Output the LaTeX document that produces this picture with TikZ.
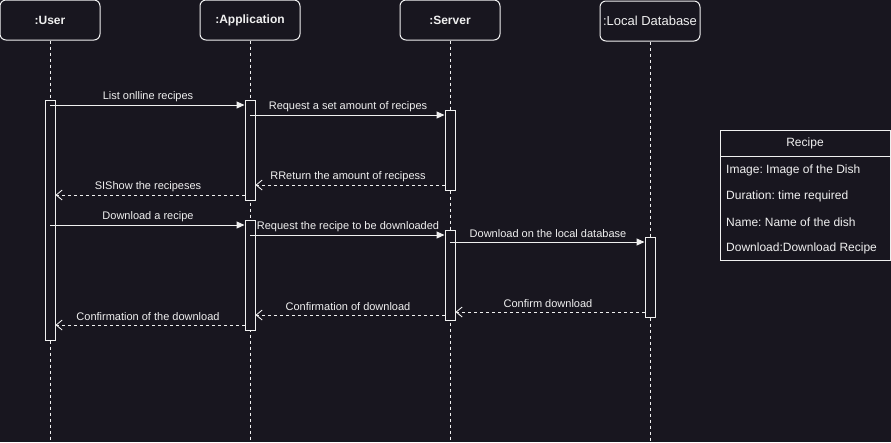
\documentclass[tikz,border=0pt]{standalone}
\usepackage{fontspec}
\setmainfont{Liberation Sans}
\usetikzlibrary{arrows.meta}
\definecolor{bgc}{RGB}{24,22,31}
\definecolor{fgc}{RGB}{240,240,240}
\frenchspacing
\begin{document}
\begin{tikzpicture}[x=1pt,y=-1pt,
  head/.style={draw=fgc,line width=1pt,rounded corners=6pt,minimum width=100pt,minimum height=40pt,inner sep=0pt,text=fgc,font=\fontsize{12}{14}\selectfont\bfseries,fill=bgc},
  life/.style={draw=fgc,line width=0.9pt,dash pattern=on 3pt off 3pt},
  act/.style={draw=fgc,line width=1pt,fill=bgc,minimum width=10pt,inner sep=0pt,anchor=north},
  msg/.style={draw=fgc,line width=1pt,-{Triangle[length=8pt,width=7pt]}},
  ret/.style={draw=fgc,line width=1pt,dash pattern=on 3pt off 3pt,-{Straight Barb[length=6pt,width=10pt,line width=0.9pt]}},
  lbl/.style={text=fgc,font=\fontsize{11}{13}\selectfont,inner sep=0pt},
  row/.style={text=fgc,font=\fontsize{12}{14}\selectfont,inner sep=0pt,anchor=west}]
\fill[bgc] (0,0) rectangle (891,442);
\useasboundingbox (0,0) rectangle (891,442);
% headers
\node[head] (hu) at (50,20) {:User};
\node[head] (ha) at (250,20) {:Application};
\node[head] (hs) at (450,20) {:Server};
\node[head,font=\fontsize{13}{15}\selectfont] (hd) at (650,21) {:Local Database};
% lifelines
\coordinate (eu) at (50,442);
\coordinate (ea) at (250,442);
\coordinate (es) at (450,442);
\coordinate (ed) at (650,442);
\draw[life] (hu.south) -- (eu);
\draw[life] (ha.south) -- (ea);
\draw[life] (hs.south) -- (es);
\draw[life] (hd.south) -- (ed);
% activations
\node[act,minimum height=240pt] (u1) at (50,100) {};
\node[act,minimum height=100pt] (a1) at (250,100) {};
\node[act,minimum height=110pt] (a2) at (250,220) {};
\node[act,minimum height=80pt] (s1) at (450,110) {};
\node[act,minimum height=90pt] (s2) at (450,230) {};
\node[act,minimum height=80pt] (d1) at (650,237) {};
% messages
\draw[msg] (u1.center |- 0,105) -- (a1.west |- 0,105);
\node[lbl] (l1) at (148,96.5) {List onlline recipes};
\draw[msg] (a1.center |- 0,115) -- (s1.west |- 0,115);
\node[lbl] (l2) at (348,106.5) {Request a set amount of recipes};
\draw[ret] (s1.west |- 0,185) -- (a1.east |- 0,185);
\node[lbl] (l3) at (348,176.5) {RReturn the amount of recipess};
\draw[ret] (a1.west |- 0,195) -- (u1.east |- 0,195);
\node[lbl] (l4) at (148,186.5) {SIShow the recipeses};
\draw[msg] (u1.center |- 0,225) -- (a2.west |- 0,225);
\node[lbl] (l5) at (148,216.5) {Download a recipe};
\draw[msg] (a2.center |- 0,235) -- (s2.west |- 0,235);
\node[lbl] (l6) at (348,226.5) {Request the recipe to be downloaded};
\draw[msg] (s2.center |- 0,242) -- (d1.west |- 0,242);
\node[lbl] (l7) at (548,233.5) {Download on the local database};
\draw[ret] (d1.west |- 0,312) -- (s2.east |- 0,312);
\node[lbl] (l8) at (548,303.5) {Confirm download};
\draw[ret] (s2.west |- 0,315) -- (a2.east |- 0,315);
\node[lbl] (l9) at (348,306.5) {Confirmation of download};
\draw[ret] (a2.west |- 0,325) -- (u1.east |- 0,325);
\node[lbl] (l10) at (148,316.5) {Confirmation of the download};
% recipe class box
\node[draw=fgc,line width=1pt,minimum width=170pt,minimum height=130pt,anchor=north west,inner sep=0pt] (rb) at (720,130) {};
\draw[fgc,line width=1pt] (rb.north west |- 0,156) -- (rb.north east |- 0,156);
\node[text=fgc,font=\fontsize{12}{14}\selectfont,inner sep=0pt] (rt) at (805,143) {Recipe};
\node[row] (r1) at (726,170) {Image: Image of the Dish};
\node[row] (r2) at (726,196) {Duration: time required};
\node[row] (r3) at (726,222) {Name: Name of the dish};
\node[row] (r4) at (726,248) {Download:Download Recipe};
\end{tikzpicture}
\end{document}
